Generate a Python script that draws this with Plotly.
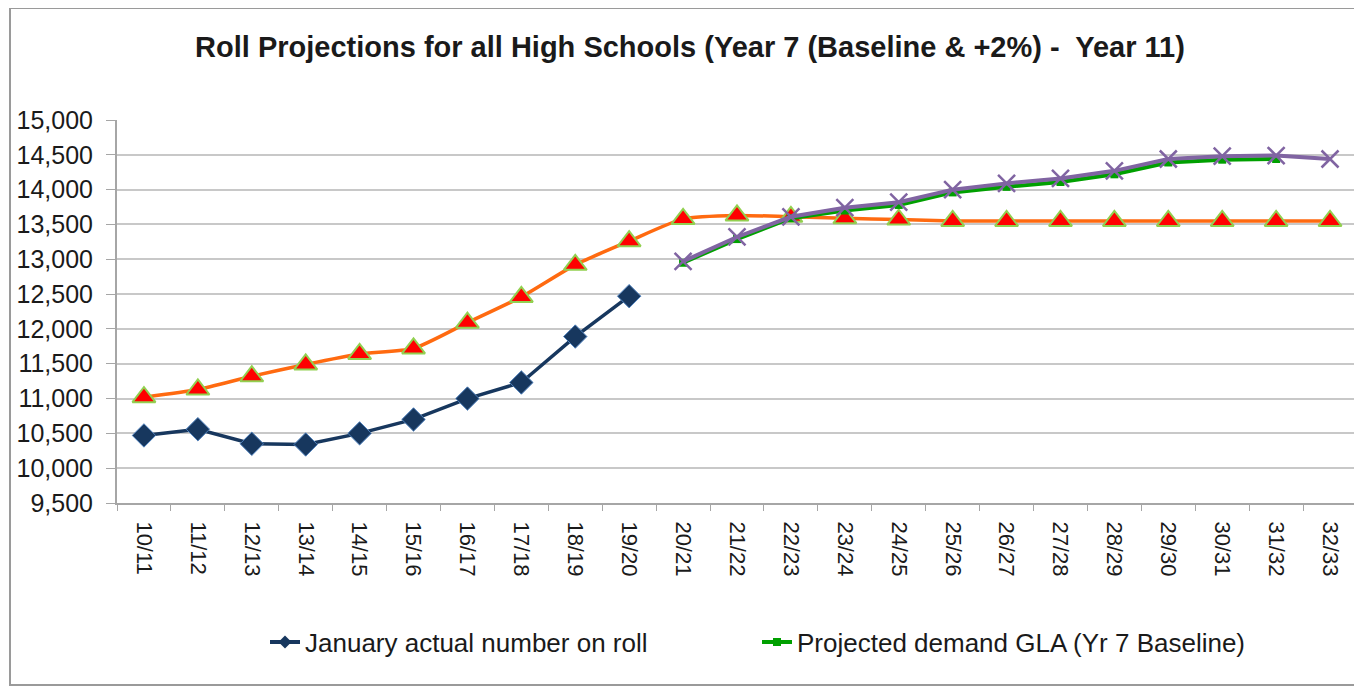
import plotly.graph_objects as go

FONT = "Liberation Sans, Arial, sans-serif"
TEXT = "#1a1a1a"
GRID = "#c8c8c8"
AXIS = "#a6a6a6"

years = ["10/11", "11/12", "12/13", "13/14", "14/15", "15/16", "16/17", "17/18",
         "18/19", "19/20", "20/21", "21/22", "22/23", "23/24", "24/25", "25/26",
         "26/27", "27/28", "28/29", "29/30", "30/31", "31/32", "32/33"]

actual_roll = [10470, 10560, 10350, 10340, 10500, 10700, 11000, 11230, 11890, 12470,
               None, None, None, None, None, None, None, None, None, None, None, None, None]

plus_two = [11020, 11130, 11320, 11490, 11640, 11720, 12090, 12460, 12920, 13260,
            13580, 13630, 13610, 13590, 13570, 13550, 13550, 13550, 13550, 13550,
            13550, 13550, 13550]

gla_baseline = [None, None, None, None, None, None, None, None, None, None,
                12950, 13290, 13590, 13700, 13780, 13960, 14040, 14110, 14220, 14390,
                14430, 14440, None]

year11 = [None, None, None, None, None, None, None, None, None, None,
          12970, 13320, 13610, 13740, 13820, 14000, 14090, 14160, 14270, 14440,
          14480, 14490, 14440]

# page body has an 8px margin, so figure coords = screen coords - 8
L, R, T, B = 109, 13, 112, 192
PW, PH = 1362 - L - R, 687 - T - B

fig = go.Figure()

fig.add_trace(go.Scatter(
    x=years, y=plus_two, mode="lines+markers", name="Year 7 +2%", showlegend=False,
    line=dict(color="#ff6a10", width=3.5, shape="spline", smoothing=0.6),
    marker=dict(symbol="triangle-up", size=20, color="#ff0000",
                line=dict(color="#92d050", width=2)),
))
fig.add_trace(go.Scatter(
    x=years, y=actual_roll, mode="lines+markers", name="January actual number on roll",
    showlegend=False, line=dict(color="#17375e", width=3.5),
    marker=dict(symbol="diamond", size=18, color="#17375e",
                line=dict(color="#4f81bd", width=1)),
))
fig.add_trace(go.Scatter(
    x=years, y=gla_baseline, mode="lines+markers", name="Projected demand GLA (Yr 7 Baseline)",
    showlegend=False, line=dict(color="#00a000", width=4),
    marker=dict(symbol="square", size=8, color="#00a000"),
))
fig.add_trace(go.Scatter(
    x=years, y=year11, mode="lines+markers", name="Year 11", showlegend=False,
    line=dict(color="#8064a2", width=4),
    marker=dict(symbol="x-thin-open", size=17, color="#8064a2",
                line=dict(color="#8064a2", width=2.5)),
))

# legend entries (small markers, as in the original key)
fig.add_trace(go.Scatter(
    x=[None], y=[None], mode="lines+markers", name="January actual number on roll",
    legend="legend", line=dict(color="#17375e", width=4),
    marker=dict(symbol="diamond", size=10, color="#17375e"),
))
fig.add_trace(go.Scatter(
    x=[None], y=[None], mode="lines+markers", name="Projected demand GLA (Yr 7 Baseline)",
    legend="legend2", line=dict(color="#00a000", width=4),
    marker=dict(symbol="square", size=8, color="#00a000"),
))

leg_y = (T + PH - 634) / PH
fig.update_layout(
    width=1362, height=687,
    paper_bgcolor="white", plot_bgcolor="white",
    font=dict(family=FONT, color=TEXT),
    margin=dict(l=L, r=R, t=T, b=B, autoexpand=False),
    title=dict(text="<b>Roll Projections for all High Schools (Year 7 (Baseline &amp; +2%) -  Year 11)</b>",
               x=682 / 1362, xanchor="center", y=1 - 39 / 687, yanchor="middle",
               font=dict(size=29, color=TEXT)),
    legend=dict(orientation="h", x=(257 - L) / PW, xanchor="left", y=leg_y, yanchor="middle",
                font=dict(size=26, color=TEXT)),
    legend2=dict(orientation="h", x=(749 - L) / PW, xanchor="left", y=leg_y, yanchor="middle",
                 font=dict(size=26, color=TEXT)),
    shapes=[dict(type="rect", xref="paper", yref="paper",
                 x0=(2 - L) / PW, x1=(1358 - L) / PW,
                 y0=(T + PH - 677) / PH, y1=(T + PH - 0) / PH,
                 line=dict(color="#9a9a9a", width=2), layer="below")],
)
fig.update_xaxes(
    type="category", range=[-0.5, 22.5], tickangle=90, tickson="boundaries",
    ticks="outside", ticklen=6, tickcolor=AXIS, showline=True, linecolor=AXIS, linewidth=2,
    showgrid=False, tickfont=dict(size=22, color=TEXT), ticklabelstandoff=12,
)
fig.update_yaxes(
    range=[9500, 15000], dtick=500, tickformat=",d", ticks="outside", ticklen=9,
    tickcolor=AXIS, showline=True, linecolor=AXIS, linewidth=2,
    gridcolor=GRID, gridwidth=2, zeroline=False, tickfont=dict(size=25, color=TEXT),
    ticklabelstandoff=8,
)

fig.write_html("out.html")
